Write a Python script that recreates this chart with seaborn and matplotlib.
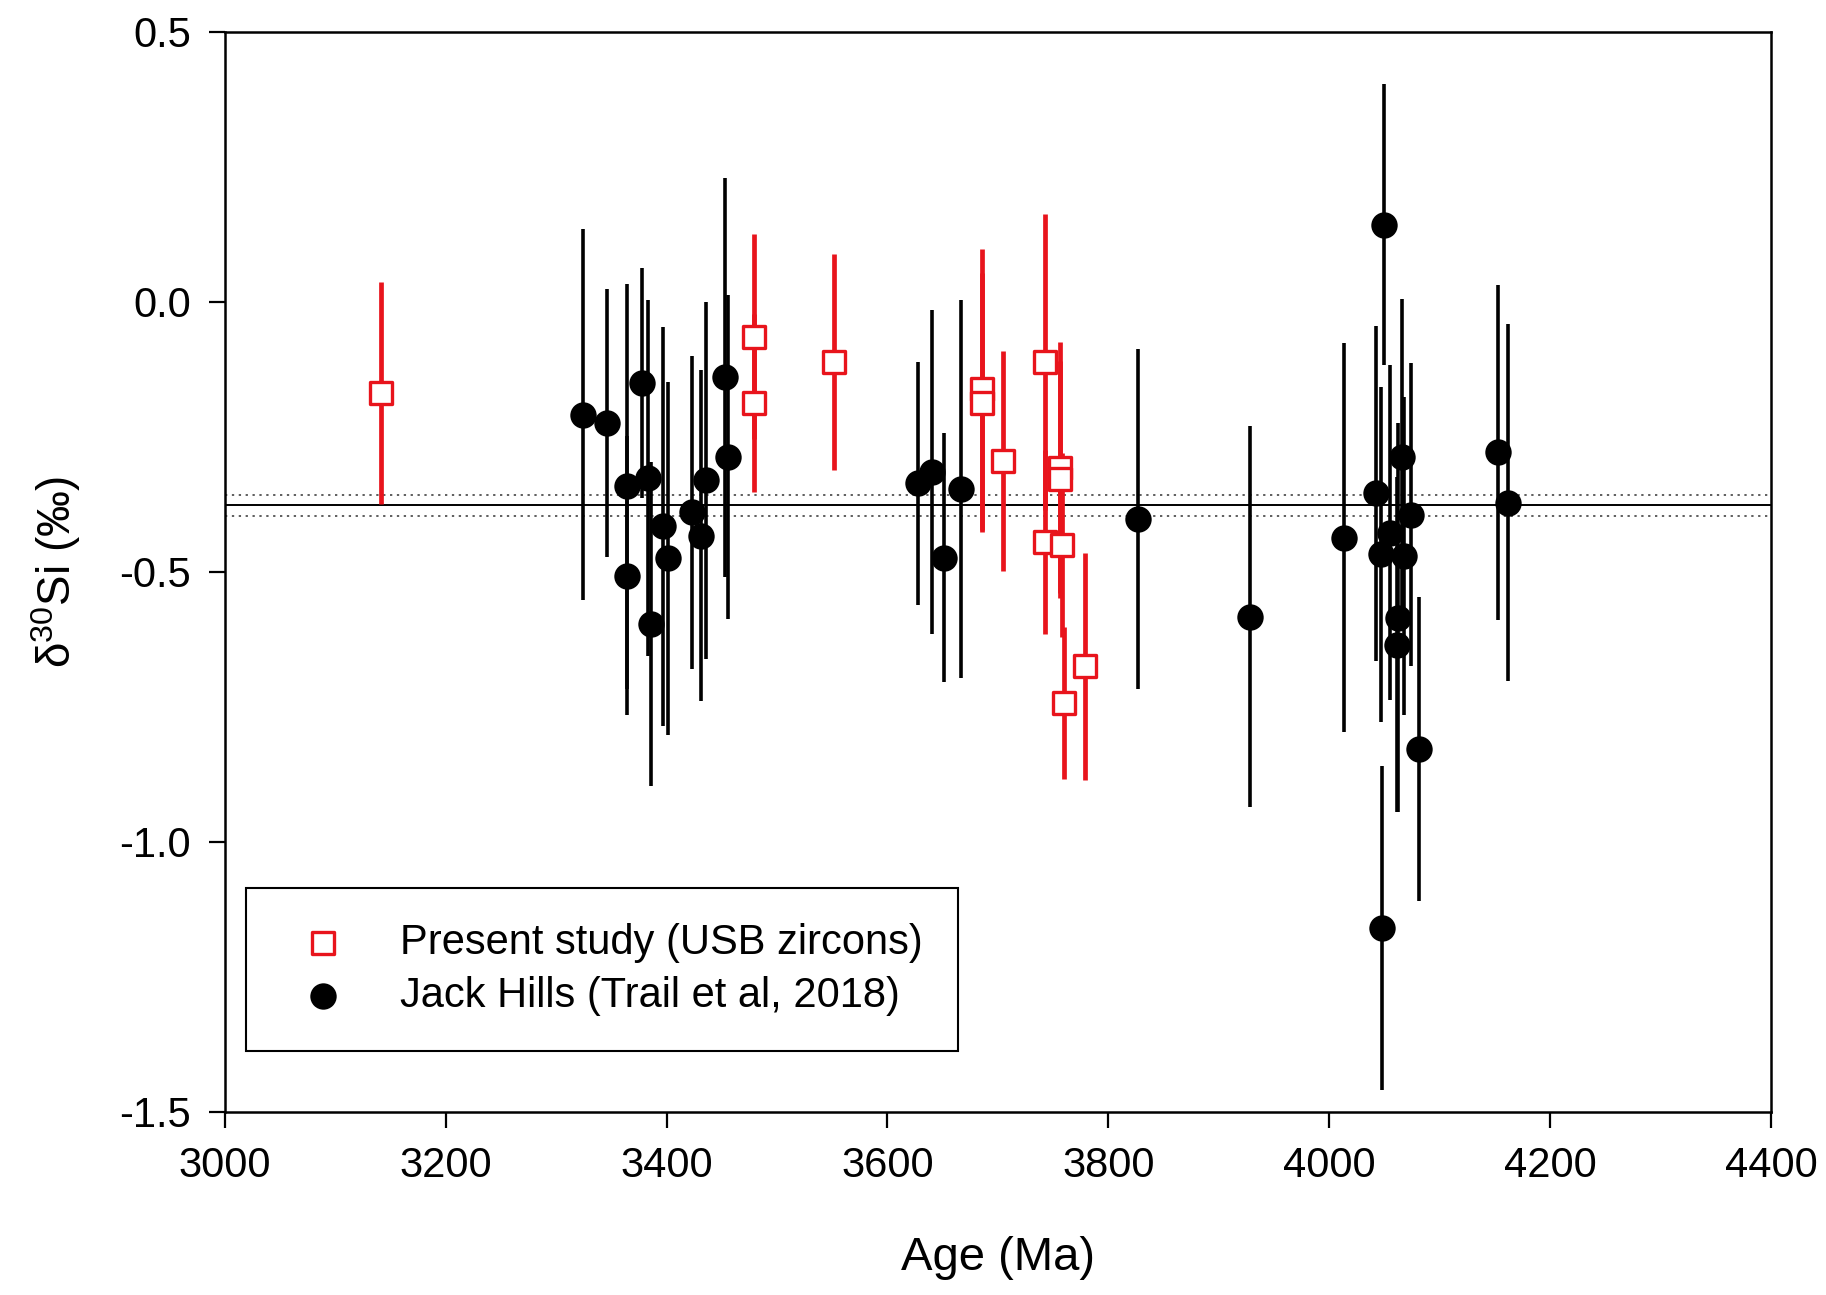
import numpy as np
import pandas as pd
import matplotlib
matplotlib.use('Agg')
import matplotlib.pyplot as plt
import seaborn as sns

# USB zircons (present study)
usb_age = [3141, 3479, 3479, 3552, 3686, 3686, 3705, 3743, 3743, 3756, 3756, 3758, 3760, 3779]
usb_d30si = [-0.169, -0.065, -0.188, -0.111, -0.162, -0.187, -0.295, -0.111, -0.445,
             -0.307, -0.329, -0.450, -0.743, -0.675]
usb_err = [0.205, 0.19, 0.165, 0.20, 0.26, 0.24, 0.204, 0.274, 0.17, 0.233, 0.22, 0.17, 0.14, 0.21]

# Jack Hills (Trail et al, 2018)
jh_age = [3324, 3346, 3364, 3364, 3378, 3383, 3386, 3397, 3401, 3423, 3431, 3436, 3453, 3456,
          3628, 3640, 3651, 3667, 3827, 3928, 4013, 4042, 4047, 4048, 4050, 4055, 4061, 4062,
          4066, 4068, 4074, 4081, 4153, 4162]
jh_d30si = [-0.209, -0.225, -0.342, -0.507, -0.151, -0.326, -0.597, -0.416, -0.475, -0.390,
            -0.433, -0.331, -0.140, -0.288, -0.336, -0.316, -0.474, -0.347, -0.403, -0.583,
            -0.437, -0.355, -0.468, -1.160, 0.143, -0.428, -0.635, -0.585, -0.288, -0.471,
            -0.394, -0.828, -0.279, -0.372]
jh_err = [0.343, 0.248, 0.375, 0.258, 0.213, 0.33, 0.30, 0.37, 0.327, 0.29, 0.306, 0.33, 0.37,
          0.30, 0.225, 0.30, 0.23, 0.35, 0.315, 0.352, 0.36, 0.31, 0.31, 0.30, 0.26, 0.31,
          0.31, 0.36, 0.293, 0.295, 0.28, 0.282, 0.31, 0.33]

# mean line and its uncertainty
mean_val = -0.377
mean_err = 0.02

x_ticks = [3000, 3200, 3400, 3600, 3800, 4000, 4200, 4400]
y_ticks = [-1.5, -1.0, -0.5, 0.0, 0.5]

red = '#e8141c'

sns.set_theme(style='ticks')
plt.rcParams['font.family'] = ['Liberation Sans', 'DejaVu Sans']
plt.rcParams['axes.unicode_minus'] = False
plt.rcParams['mathtext.fontset'] = 'custom'
plt.rcParams['mathtext.rm'] = 'Liberation Sans'
plt.rcParams['text.color'] = 'black'
plt.rcParams['axes.labelcolor'] = 'black'
plt.rcParams['xtick.color'] = 'black'
plt.rcParams['ytick.color'] = 'black'

usb = pd.DataFrame({'age': usb_age, 'd30si': usb_d30si, 'err': usb_err})
jh = pd.DataFrame({'age': jh_age, 'd30si': jh_d30si, 'err': jh_err})

fig, ax = plt.subplots(figsize=(18.26, 12.95), dpi=100)
fig.subplots_adjust(left=0.1231, right=0.9699, bottom=0.1415, top=0.9755)

# reference lines
ax.axhline(mean_val, color='black', lw=1.4, zorder=1)
ax.axhline(mean_val + mean_err, color='#333333', lw=1.1, ls=(0, (1.5, 3)), zorder=1)
ax.axhline(mean_val - mean_err, color='#333333', lw=1.1, ls=(0, (1.5, 3)), zorder=1)

# Jack Hills
ax.errorbar(jh['age'], jh['d30si'], yerr=jh['err'], fmt='none', ecolor='black',
            elinewidth=2.6, capsize=0, zorder=2)
sns.scatterplot(data=jh, x='age', y='d30si', marker='o', s=19 ** 2, color='black',
                edgecolor='black', linewidth=0, label='Jack Hills (Trail et al, 2018)',
                ax=ax, zorder=3)

# present study
ax.errorbar(usb['age'], usb['d30si'], yerr=usb['err'], fmt='none', ecolor=red,
            elinewidth=3.4, capsize=0, zorder=4)
sns.scatterplot(data=usb, x='age', y='d30si', marker='s', s=16 ** 2, facecolor='white',
                edgecolor=red, linewidth=2.4, label='Present study (USB zircons)',
                ax=ax, zorder=5)

ax.set_xlim(3000, 4400)
ax.set_ylim(-1.5, 0.5)
ax.set_xticks(x_ticks)
ax.set_xticklabels([str(t) for t in x_ticks])
ax.set_yticks(y_ticks)
ax.set_yticklabels(['%.1f' % t for t in y_ticks])
ax.tick_params(axis='both', direction='out', length=11.5, width=1.6, labelsize=30, pad=13,
               colors='black', top=False, right=False)
for sp in ax.spines.values():
    sp.set_linewidth(1.8)
    sp.set_color('black')

ax.set_xlabel('Age (Ma)', fontsize=34, color='black')
ax.xaxis.set_label_coords(0.5, -0.115)
ax.set_ylabel('δ$^{30}$Si (‰)', fontsize=33, labelpad=26, color='black')

handles, labels = ax.get_legend_handles_labels()
order = [labels.index('Present study (USB zircons)'), labels.index('Jack Hills (Trail et al, 2018)')]
leg = ax.legend([handles[i] for i in order], [labels[i] for i in order],
                loc='lower left', bbox_to_anchor=(0.0136, 0.056), borderaxespad=0,
                frameon=True, fancybox=False, edgecolor='black', framealpha=1,
                fontsize=30, borderpad=0.85, handletextpad=0.85, labelspacing=0.3,
                markerscale=1.0)
leg.get_frame().set_linewidth(1.5)
for t in leg.get_texts():
    t.set_color('black')

fig.savefig('out.png', dpi=100)
